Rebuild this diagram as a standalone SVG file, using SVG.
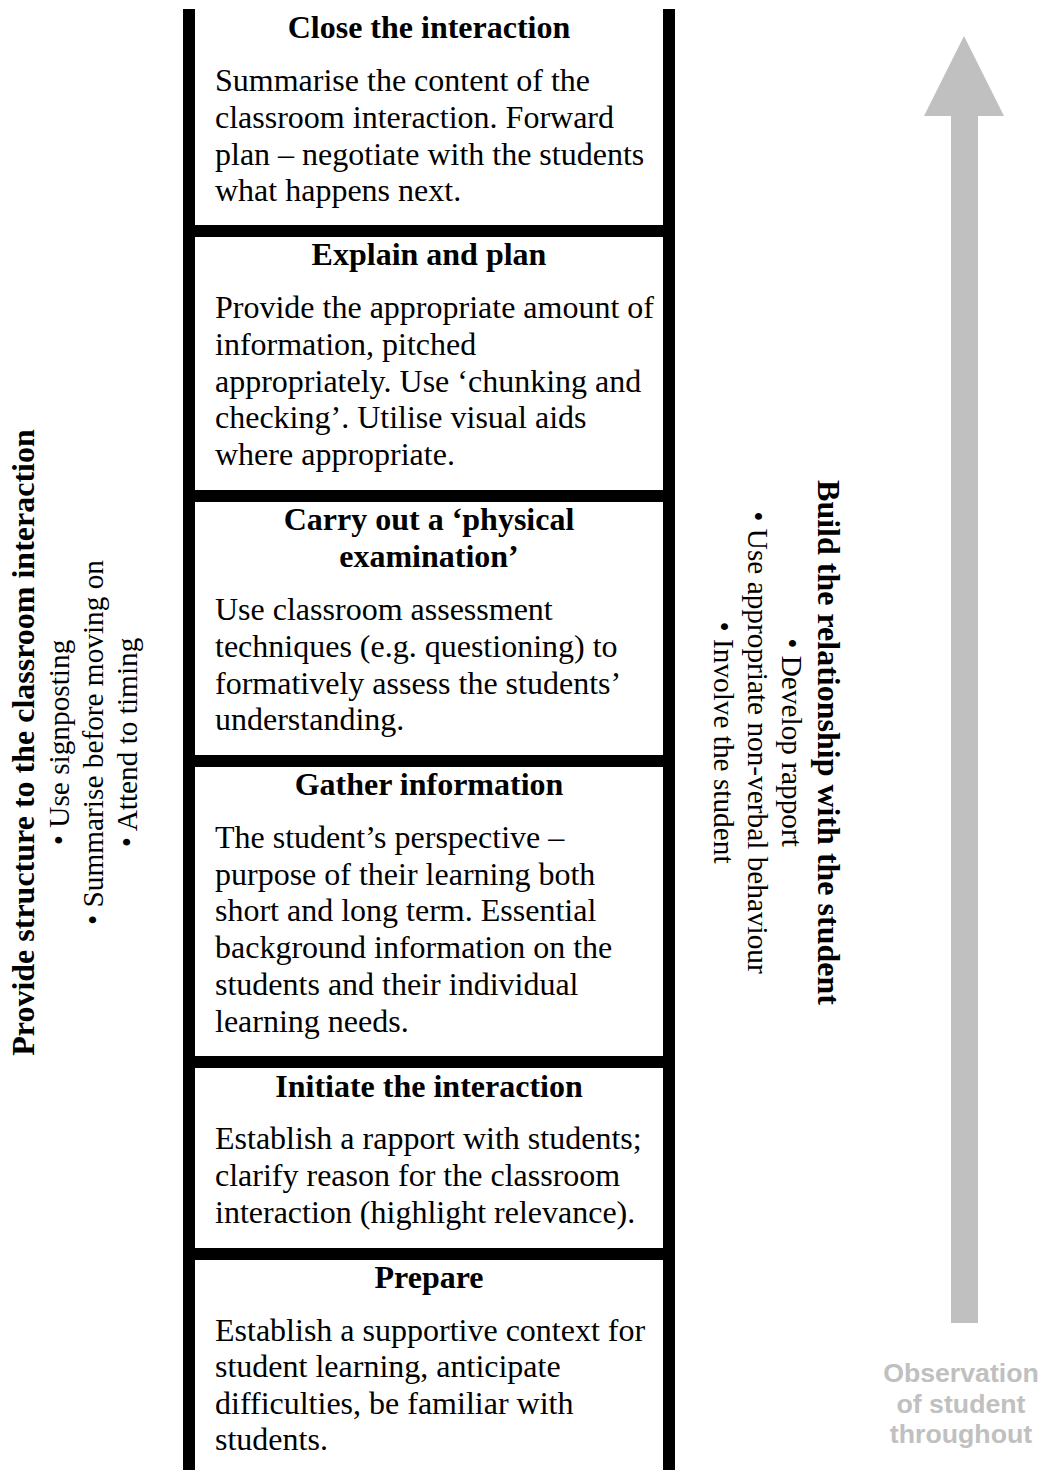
<svg xmlns="http://www.w3.org/2000/svg" width="1050" height="1470" viewBox="0 0 1050 1470">
<style>
  .bar { fill: #000000; }
  .h { font-family: "Liberation Serif", "Times New Roman", serif; font-weight: bold; font-size: 32px; fill: #000; text-anchor: middle; }
  .b { font-family: "Liberation Serif", "Times New Roman", serif; font-size: 32px; fill: #000; }
  .side { font-family: "Liberation Serif", "Times New Roman", serif; font-weight: bold; font-size: 32px; fill: #000; text-anchor: middle; }
  .bul { font-family: "Liberation Serif", "Times New Roman", serif; font-size: 29.3px; fill: #000; text-anchor: middle; }
  .obs { font-family: "Liberation Sans", Arial, sans-serif; font-weight: bold; font-size: 26.7px; fill: #c0c0c0; text-anchor: middle; }
  .arrow { fill: #c0c0c0; }
</style>
<rect x="0" y="0" width="1050" height="1470" fill="#ffffff"/>
<g id="ladder-frame">
  <rect class="bar" x="183" y="9" width="12" height="1461"/>
  <rect class="bar" x="663" y="9" width="12" height="1461"/>
  <rect class="bar" x="183" y="225" width="492" height="12"/>
  <rect class="bar" x="183" y="490" width="492" height="12"/>
  <rect class="bar" x="183" y="755" width="492" height="12"/>
  <rect class="bar" x="183" y="1056" width="492" height="12"/>
  <rect class="bar" x="183" y="1248" width="492" height="12"/>
</g>
<g id="node-close">
  <text class="h" x="429" y="38">Close the interaction</text>
  <text class="b" x="215" y="91">Summarise the content of the</text>
  <text class="b" x="215" y="128">classroom interaction. Forward</text>
  <text class="b" x="215" y="165">plan – negotiate with the students</text>
  <text class="b" x="215" y="201">what happens next.</text>
</g>
<g id="node-explain">
  <text class="h" x="429" y="265">Explain and plan</text>
  <text class="b" x="215" y="318">Provide the appropriate amount of</text>
  <text class="b" x="215" y="355">information, pitched</text>
  <text class="b" x="215" y="392">appropriately. Use ‘chunking and</text>
  <text class="b" x="215" y="428">checking’. Utilise visual aids</text>
  <text class="b" x="215" y="465">where appropriate.</text>
</g>
<g id="node-examination">
  <text class="h" x="429" y="530">Carry out a ‘physical</text>
  <text class="h" x="429" y="567">examination’</text>
  <text class="b" x="215" y="620">Use classroom assessment</text>
  <text class="b" x="215" y="657">techniques (e.g. questioning) to</text>
  <text class="b" x="215" y="694">formatively assess the students’</text>
  <text class="b" x="215" y="730">understanding.</text>
</g>
<g id="node-gather">
  <text class="h" x="429" y="795">Gather information</text>
  <text class="b" x="215" y="848">The student’s perspective –</text>
  <text class="b" x="215" y="885">purpose of their learning both</text>
  <text class="b" x="215" y="921">short and long term. Essential</text>
  <text class="b" x="215" y="958">background information on the</text>
  <text class="b" x="215" y="995">students and their individual</text>
  <text class="b" x="215" y="1032">learning needs.</text>
</g>
<g id="node-initiate">
  <text class="h" x="429" y="1097">Initiate the interaction</text>
  <text class="b" x="215" y="1149">Establish a rapport with students;</text>
  <text class="b" x="215" y="1186">clarify reason for the classroom</text>
  <text class="b" x="215" y="1223">interaction (highlight relevance).</text>
</g>
<g id="node-prepare">
  <text class="h" x="429" y="1288">Prepare</text>
  <text class="b" x="215" y="1341">Establish a supportive context for</text>
  <text class="b" x="215" y="1377">student learning, anticipate</text>
  <text class="b" x="215" y="1414">difficulties, be familiar with</text>
  <text class="b" x="215" y="1450">students.</text>
</g>
<g id="node-structure">
  <text class="side" transform="translate(34,742.5) rotate(-90)">Provide structure to the classroom interaction</text>
  <text class="bul" transform="translate(69,742.5) rotate(-90)">• Use signposting</text>
  <text class="bul" transform="translate(103,742.5) rotate(-90)">• Summarise before moving on</text>
  <text class="bul" transform="translate(137,742.5) rotate(-90)">• Attend to timing</text>
</g>
<g id="node-relationship">
  <text class="side" transform="translate(818,742.5) rotate(90)">Build the relationship with the student</text>
  <text class="bul" transform="translate(782,742.5) rotate(90)">• Develop rapport</text>
  <text class="bul" transform="translate(748,742.5) rotate(90)">• Use appropriate non-verbal behaviour</text>
  <text class="bul" transform="translate(714,742.5) rotate(90)">• Involve the student</text>
</g>
<g id="connectors">
  <polygon class="arrow" points="964,36 1004,116 978,116 978,1323 951,1323 951,116 924,116"/>
</g>
<g id="node-observation">
  <text class="obs" x="961" y="1382">Observation</text>
  <text class="obs" x="961" y="1413">of student</text>
  <text class="obs" x="961" y="1443">throughout</text>
</g>
</svg>
